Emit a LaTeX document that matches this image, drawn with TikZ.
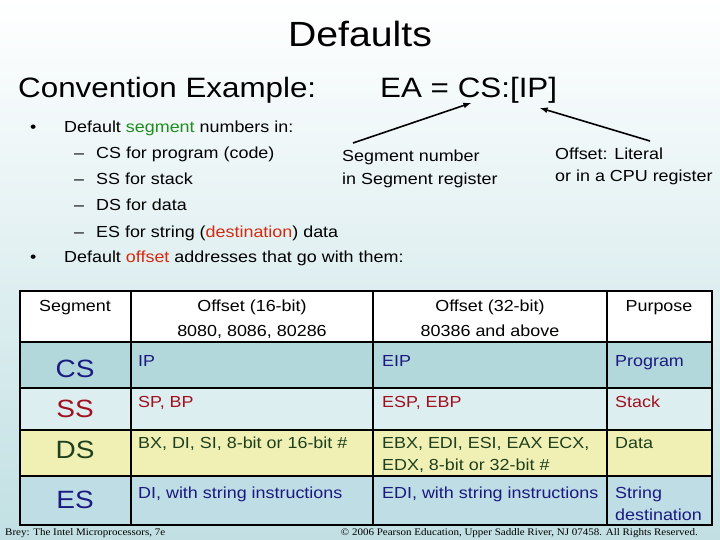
\documentclass[tikz,border=0pt]{standalone}
\usepackage{fontspec}
\setmainfont[FakeStretch=1.12]{Liberation Sans}
\newfontfamily\timesf[FakeStretch=1.1]{Liberation Serif}
\definecolor{segg}{HTML}{1E8C1E}
\definecolor{offr}{HTML}{D42A10}
\definecolor{navy}{HTML}{1A1A80}
\definecolor{dred}{HTML}{A01020}
\definecolor{dgrn}{HTML}{1E401E}
\definecolor{rowcs}{HTML}{B2D8DC}
\definecolor{rowss}{HTML}{DCEEF0}
\definecolor{rowds}{HTML}{F0F0B4}
\definecolor{rowes}{HTML}{BEDDE4}
\begin{document}
\begin{tikzpicture}[x=1pt,y=-1pt,
  txt/.style={anchor=base west,inner sep=0pt,font=\fontsize{16}{18}\selectfont},
  cell/.style={anchor=base west,inner sep=0pt,font=\fontsize{16}{18}\selectfont,align=left},
  seg/.style={anchor=base,inner sep=0pt,font=\fontsize{25}{28}\selectfont},
  hd/.style={anchor=base,inner sep=0pt,font=\fontsize{16}{18}\selectfont},
  arr/.style={-latex,line width=1.6pt}]
\shade[top color=white,bottom color=rowcs!80] (0,0) rectangle (720,540);
\useasboundingbox (0,0) rectangle (720,540);
\node[anchor=base,inner sep=0pt,font=\fontsize{35}{40}\selectfont] (title) at (360,47) {Defaults};
\node[anchor=base west,inner sep=0pt,font=\fontsize{28}{32}\selectfont] (conv) at (18,98) {Convention Example:};
\node[anchor=base west,inner sep=0pt,font=\fontsize{28}{32}\selectfont] (ea) at (380,98) {EA = CS:[IP]};
\node[txt] (b1) at (30,133) {\textbullet};
\node[txt] (l1) at (64,133) {Default \textcolor{segg}{segment} numbers in:};
\node[txt] (l2) at (74,159) {--\hspace{12pt}CS for program (code)};
\node[txt] (l3) at (74,185) {--\hspace{12pt}SS for stack};
\node[txt] (l4) at (74,211) {--\hspace{12pt}DS for data};
\node[txt] (l5) at (74,237) {--\hspace{12pt}ES for string (\textcolor{offr}{destination}) data};
\node[txt] (b2) at (30,262) {\textbullet};
\node[txt] (l6) at (64,262) {Default \textcolor{offr}{offset} addresses that go with them:};
\node[txt] (sn) at (342,162) {Segment number};
\node[txt] (sr) at (342,185) {in Segment register};
\node[txt] (ol) at (555,160) {Offset: Literal};
\node[txt] (oc) at (555,182) {or in a CPU register};
\coordinate (a1s) at (353,143); \coordinate (a1e) at (471,103);
\coordinate (a2s) at (650,141); \coordinate (a2e) at (540,108);
\draw[arr] (a1s) -- (a1e);
\draw[arr] (a2s) -- (a2e);
% table
\fill[white] (20,291) rectangle (712,342);
\fill[rowcs] (20,342) rectangle (712,388);
\fill[rowss] (20,388) rectangle (712,430);
\fill[rowds] (20,430) rectangle (712,476);
\fill[rowes] (20,476) rectangle (712,525);
\draw[line width=1.5pt] (20,291) rectangle (712,525);
\foreach \y in {342,388,430,476} \draw[line width=1.2pt] (20,\y) -- (712,\y);
\foreach \x in {131,373,607} \draw[line width=1.2pt] (\x,291) -- (\x,525);
\node[hd] (h1) at (75,311) {Segment};
\node[hd] (h2a) at (252,311) {Offset (16-bit)};
\node[hd] (h2b) at (252,336) {8080, 8086, 80286};
\node[hd] (h3a) at (490,311) {Offset (32-bit)};
\node[hd] (h3b) at (490,336) {80386 and above};
\node[hd] (h4) at (659,311) {Purpose};
\node[seg,text=navy] (cs) at (75,377) {CS};
\node[seg,text=dred] (ss) at (75,417) {SS};
\node[seg,text=dgrn] (ds) at (75,458) {DS};
\node[seg,text=navy] (es) at (75,508) {ES};
\node[cell,text=navy] (c1) at (138,366) {IP};
\node[cell,text=navy] (c2) at (382,366) {EIP};
\node[cell,text=navy] (c3) at (615,366) {Program};
\node[cell,text=dred] (s1) at (138,407) {SP, BP};
\node[cell,text=dred] (s2) at (382,407) {ESP, EBP};
\node[cell,text=dred] (s3) at (615,407) {Stack};
\node[cell,text=dgrn] (d1) at (138,448) {BX, DI, SI, 8-bit or 16-bit \#};
\node[cell,text=dgrn] (d2) at (382,448) {EBX, EDI, ESI, EAX ECX,};
\node[cell,text=dgrn] (d2b) at (382,470) {EDX, 8-bit or 32-bit \#};
\node[cell,text=dgrn] (d3) at (615,448) {Data};
\node[cell,text=navy] (e1) at (138,498) {DI, with string instructions};
\node[cell,text=navy] (e2) at (382,498) {EDI, with string instructions};
\node[cell,text=navy] (e3) at (615,498) {String};
\node[cell,text=navy] (e3b) at (615,520) {destination};
\node[anchor=base west,inner sep=0pt,font=\timesf\fontsize{10}{12}\selectfont] (f1) at (5,535) {Brey: The Intel Microprocessors, 7e};
\node[anchor=base east,inner sep=0pt,font=\timesf\fontsize{10}{12}\selectfont] (f2) at (698,535) {\textcopyright{} 2006 Pearson Education, Upper Saddle River, NJ 07458. All Rights Reserved.};
\end{tikzpicture}
\end{document}
